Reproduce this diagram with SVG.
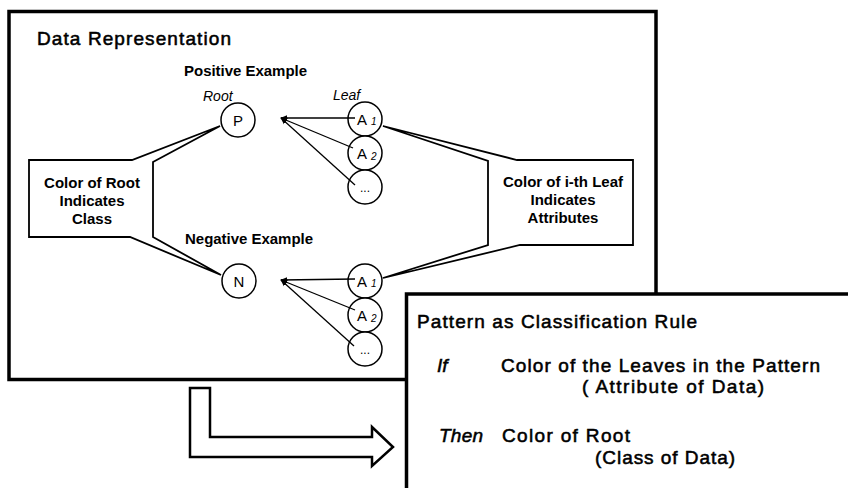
<svg xmlns="http://www.w3.org/2000/svg" width="848" height="488" viewBox="0 0 848 488">
  <style>
    .frame { fill: #fff; stroke: #000; stroke-width: 3.5; }
    .callout { fill: #fff; stroke: #000; stroke-width: 1.8; stroke-linejoin: miter; }
    .node { fill: #fff; stroke: #000; stroke-width: 1.5; }
    .edge { stroke: #000; stroke-width: 1.3; fill: none; }
    .big { font-family: "Liberation Sans", Arial, Helvetica, sans-serif; font-size: 19px; fill: #000; stroke: #000; stroke-width: 0.55; }
    .lbl { font-family: "Liberation Sans", Arial, Helvetica, sans-serif; font-size: 15px; font-weight: bold; fill: #000; }
    .it { font-family: "Liberation Sans", Arial, Helvetica, sans-serif; font-style: italic; fill: #000; }
    .itb { stroke: #000; stroke-width: 0.55; }
    .nd { font-family: "Liberation Sans", Arial, Helvetica, sans-serif; font-size: 15px; fill: #000; text-anchor: middle; }
    .sub { font-family: "Liberation Sans", Arial, Helvetica, sans-serif; font-size: 10px; font-style: italic; fill: #000; }
    .dots { font-family: "Liberation Sans", Arial, Helvetica, sans-serif; font-size: 12px; fill: #000; text-anchor: middle; }
    .mid { text-anchor: middle; }
  </style>
  <defs>
    <marker id="head" viewBox="0 0 10 10" refX="9" refY="5" markerWidth="7" markerHeight="7" markerUnits="userSpaceOnUse" orient="auto">
      <path d="M0,1 L10,5 L0,9 Z" fill="#000"/>
    </marker>
  </defs>

  <rect width="848" height="488" fill="#fff"/>

  <!-- Data representation panel -->
  <g id="data-panel">
    <rect class="frame" x="9" y="11.5" width="647" height="368"/>
    <text class="big" x="37" y="45" textLength="194" lengthAdjust="spacing">Data Representation</text>
    <text class="lbl" x="184" y="76" textLength="123" lengthAdjust="spacing">Positive Example</text>
    <text class="lbl" x="185" y="244" textLength="128" lengthAdjust="spacing">Negative Example</text>
    <text class="it" x="203" y="101" font-size="14">Root</text>
    <text class="it" x="333" y="100" font-size="14">Leaf</text>
  </g>

  <!-- Callout: root colour -->
  <g id="callout-root">
    <polygon class="callout" points="29,160 132,160 220,126 153,162 153,237 221,275 130,237 29,237"/>
    <text class="lbl mid" x="92" y="188">Color of Root</text>
    <text class="lbl mid" x="92" y="206">Indicates</text>
    <text class="lbl mid" x="92" y="224">Class</text>
  </g>

  <!-- Callout: leaf colour -->
  <g id="callout-leaf">
    <polygon class="callout" points="383,126 517,160 633,160 633,245 520,245 383,278 488,245 488,161"/>
    <text class="lbl mid" x="563" y="187">Color of i-th Leaf</text>
    <text class="lbl mid" x="563" y="205">Indicates</text>
    <text class="lbl mid" x="563" y="223">Attributes</text>
  </g>

  <!-- Positive example -->
  <g id="node-p">
    <circle class="node" cx="238" cy="120" r="17"/>
    <text class="nd" x="238" y="125.5">P</text>
  </g>
  <g id="node-pos-a1">
    <circle class="node" cx="365" cy="119" r="17"/>
    <text class="nd" x="362" y="124.5">A</text>
    <text class="sub" x="371" y="125">1</text>
  </g>
  <g id="node-pos-a2">
    <circle class="node" cx="365" cy="153" r="17"/>
    <text class="nd" x="362" y="158.5">A</text>
    <text class="sub" x="371" y="160">2</text>
  </g>
  <g id="node-pos-more">
    <circle class="node" cx="365" cy="187" r="17"/>
    <text class="dots" x="365" y="192">...</text>
  </g>

  <!-- Negative example -->
  <g id="node-n">
    <circle class="node" cx="239" cy="281" r="17"/>
    <text class="nd" x="239" y="286.5">N</text>
  </g>
  <g id="node-neg-a1">
    <circle class="node" cx="365" cy="281" r="17"/>
    <text class="nd" x="362" y="286.5">A</text>
    <text class="sub" x="371" y="287">1</text>
  </g>
  <g id="node-neg-a2">
    <circle class="node" cx="365" cy="315" r="17"/>
    <text class="nd" x="362" y="320.5">A</text>
    <text class="sub" x="371" y="322">2</text>
  </g>
  <g id="node-neg-more">
    <circle class="node" cx="365" cy="349" r="17"/>
    <text class="dots" x="365" y="354">...</text>
  </g>

  <!-- Leaf-to-root edges -->
  <g id="connectors">
    <line class="edge" x1="355" y1="118" x2="281" y2="118" marker-end="url(#head)"/>
    <line class="edge" x1="353" y1="148" x2="281" y2="118" marker-end="url(#head)"/>
    <line class="edge" x1="355" y1="185" x2="281" y2="118" marker-end="url(#head)"/>
    <line class="edge" x1="355" y1="279" x2="281" y2="280" marker-end="url(#head)"/>
    <line class="edge" x1="355" y1="310" x2="281" y2="280" marker-end="url(#head)"/>
    <line class="edge" x1="354" y1="346" x2="281" y2="280" marker-end="url(#head)"/>
  </g>

  <!-- Transition arrow -->
  <g id="transition-arrow">
    <polygon points="190,388 210,388 210,437 372,437 372,427 393,447 372,466 372,457 190,457" fill="#fff" stroke="#000" stroke-width="2.5" stroke-linejoin="miter"/>
  </g>

  <!-- Classification rule panel -->
  <g id="rule-panel">
    <rect class="frame" x="406.5" y="294" width="460" height="220"/>
    <text class="big" x="417" y="328" textLength="280" lengthAdjust="spacing">Pattern as Classification Rule</text>
    <text class="it itb" x="437" y="372" font-size="19">If</text>
    <text class="big" x="501" y="372" textLength="319" lengthAdjust="spacing">Color of the Leaves in the Pattern</text>
    <text class="big" x="582" y="393" textLength="182" lengthAdjust="spacing">( Attribute of Data)</text>
    <text class="it itb" x="439" y="442" font-size="19" textLength="44" lengthAdjust="spacing">Then</text>
    <text class="big" x="502" y="442" textLength="128" lengthAdjust="spacing">Color of Root</text>
    <text class="big" x="595" y="464" textLength="140" lengthAdjust="spacing">(Class of Data)</text>
  </g>
</svg>
